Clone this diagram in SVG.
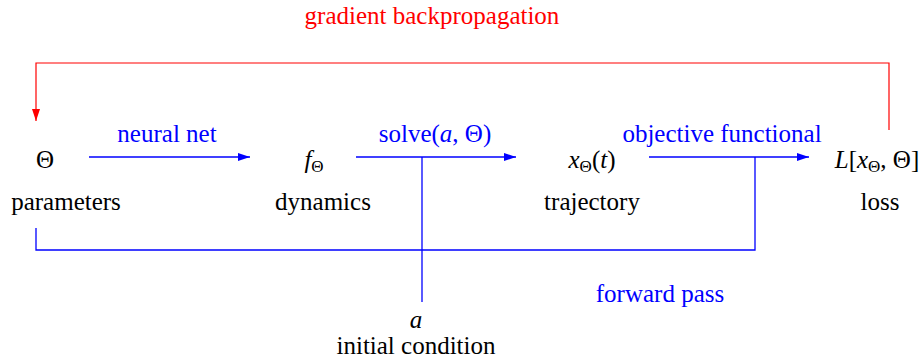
<svg xmlns="http://www.w3.org/2000/svg" width="922" height="360" viewBox="0 0 922 360">
<defs>
<marker id="ab" viewBox="0 0 12 8" refX="12" refY="4" markerWidth="12" markerHeight="8" markerUnits="userSpaceOnUse" orient="auto"><path d="M0,0 L12,4 L0,8 Z" fill="#0000ff"/></marker>
<marker id="ar" viewBox="0 0 12 8" refX="12" refY="4" markerWidth="12" markerHeight="8" markerUnits="userSpaceOnUse" orient="auto"><path d="M0,0 L12,4 L0,8 Z" fill="#ff0000"/></marker>
</defs>
<style>
.t{font-family:"Liberation Serif";font-size:25px;text-anchor:middle;fill:#000}
.b{fill:#0000ff}
.r{fill:#ff0000}
.i{font-style:italic}
.s{font-size:17px}
.lb{fill:none;stroke:#0000ff;stroke-width:1.3}
.lr{fill:none;stroke:#ff0000;stroke-width:1.2}
</style>
<rect width="922" height="360" fill="#fff"/>
<g id="connectors">
<path class="lr" d="M889,130 V63 H36 V121" marker-end="url(#ar)"/>
<path class="lb" d="M89,157 H250" marker-end="url(#ab)"/>
<path class="lb" d="M356,157 H516" marker-end="url(#ab)"/>
<path class="lb" d="M649,157 H809" marker-end="url(#ab)"/>
<path class="lb" d="M422,157 V302"/>
<path class="lb" d="M755,157 V250 H36 V228"/>
</g>
<g id="label-backprop"><text class="t r" font-family="Liberation Serif" x="432" y="24">gradient backpropagation</text></g>
<g id="label-neural"><text class="t b" font-family="Liberation Serif" x="167" y="142">neural net</text></g>
<g id="label-solve"><text class="t b" font-family="Liberation Serif" x="435" y="142">solve(<tspan class="i">a</tspan>, Θ)</text></g>
<g id="label-objective"><text class="t b" font-family="Liberation Serif" x="722" y="142">objective functional</text></g>
<g id="label-forward"><text class="t b" font-family="Liberation Serif" x="660" y="302">forward pass</text></g>
<g id="node-params"><text class="t" font-family="Liberation Serif" x="45" y="168">Θ</text><text class="t" font-family="Liberation Serif" x="66" y="210">parameters</text></g>
<g id="node-dynamics"><text class="t" font-family="Liberation Serif" x="314" y="168"><tspan class="i">f</tspan><tspan class="s" dy="4">Θ</tspan></text><text class="t" font-family="Liberation Serif" x="323" y="210">dynamics</text></g>
<g id="node-trajectory"><text class="t" font-family="Liberation Serif" x="592" y="168"><tspan class="i">x</tspan><tspan class="s" dy="4">Θ</tspan><tspan dy="-4">(</tspan><tspan class="i">t</tspan>)</text><text class="t" font-family="Liberation Serif" x="592" y="210">trajectory</text></g>
<g id="node-loss"><text class="t" font-family="Liberation Serif" x="877" y="168"><tspan class="i">L</tspan>[<tspan class="i">x</tspan><tspan class="s" dy="4">Θ</tspan><tspan dy="-4">, Θ]</tspan></text><text class="t" font-family="Liberation Serif" x="880" y="210">loss</text></g>
<g id="node-initial"><text class="t i" font-family="Liberation Serif" x="416" y="328">a</text><text class="t" font-family="Liberation Serif" x="416" y="354">initial condition</text></g>
</svg>
